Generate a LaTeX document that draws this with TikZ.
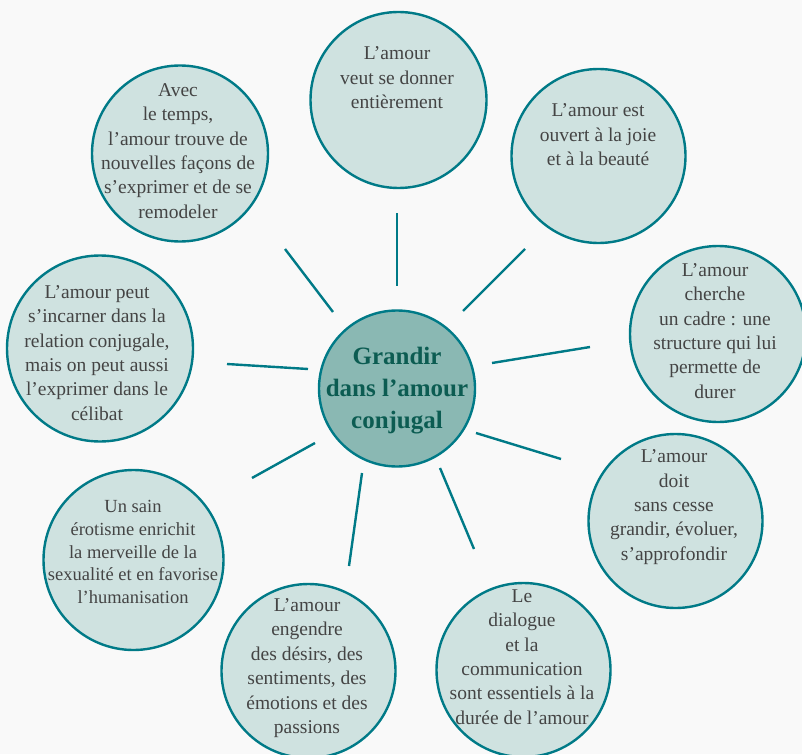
\documentclass[tikz,border=0pt]{standalone}
\usepackage{fontspec}
\setmainfont{Liberation Serif}
\definecolor{tealB}{RGB}{0,122,135}
\definecolor{bubfill}{RGB}{207,226,224}
\definecolor{midfill}{RGB}{138,184,179}
\definecolor{txtgray}{RGB}{68,68,68}
\definecolor{midtxt}{RGB}{12,92,82}
\definecolor{bg}{RGB}{249,249,249}
\begin{document}
\begin{tikzpicture}[x=1pt,y=-1pt,
  bub/.style={circle, draw=tealB, line width=2.4pt, fill=bubfill, inner sep=0pt},
  txt/.style={text=txtgray, align=center, font=\fontsize{19.5}{24.4}\selectfont, inner sep=0pt},
  spoke/.style={draw=tealB, line width=2.4pt}]
\useasboundingbox (0,0) rectangle (802,754);
\clip (0,0) rectangle (802,754);
\fill[bg] (0,0) rectangle (802,754);

% outer bubbles
\node[bub, minimum size=176pt] (b1) at (398.5,100) {};
\node[bub, minimum size=174pt] (b2) at (598.5,156) {};
\node[bub, minimum size=176pt] (b3) at (718,334) {};
\node[bub, minimum size=174pt] (b4) at (675.5,521) {};
\node[bub, minimum size=174pt] (b5) at (523.5,670) {};
\node[bub, minimum size=174pt] (b6) at (308.5,671) {};
\node[bub, minimum size=180pt] (b7) at (133.5,560) {};
\node[bub, minimum size=186pt] (b8) at (100,348.5) {};
\node[bub, minimum size=176pt] (b9) at (180,153.5) {};

% centre
\node[circle, draw=tealB, line width=2.4pt, fill=midfill, minimum size=156pt, inner sep=0pt] (c) at (397,388.5) {};
\node[text=midtxt, align=center, font=\fontsize{25}{32}\selectfont\bfseries, inner sep=0pt] (ct) at (397,391) {Grandir\\dans l’amour\\conjugal};

% texts
\node[txt] (t1) at (397,78) {L’amour\\veut se donner\\entièrement};
\node[txt] (t2) at (598,135) {L’amour est\\ouvert à la joie\\et à la beauté};
\node[txt] (t3) at (715,331) {L’amour\\cherche\\un cadre : une\\structure qui lui\\permette de\\durer};
\node[txt] (t4) at (674,507) {L’amour\\doit\\sans cesse\\grandir, évoluer,\\s’approfondir};
\node[txt] (t5) at (522,657) {Le\\dialogue\\et la\\communication\\sont essentiels à la\\durée de l’amour};
\node[txt] (t6) at (307,668) {L’amour\\engendre\\des désirs, des\\sentiments, des\\émotions et des\\passions};
\node[txt, font=\fontsize{18.5}{22.8}\selectfont] (t7) at (133,552) {Un sain\\érotisme enrichit\\la merveille de la\\sexualité et en favorise\\l’humanisation};
\node[txt] (t8) at (97,353) {L’amour peut\\s’incarner dans la\\relation conjugale,\\mais on peut aussi\\l’exprimer dans le\\célibat};
\node[txt] (t9) at (178,151) {Avec\\le temps,\\l’amour trouve de\\nouvelles façons de\\s’exprimer et de se\\remodeler};

% spokes
\coordinate (s1a) at (397,213); \coordinate (s1b) at (397,286);
\coordinate (s2a) at (525,249); \coordinate (s2b) at (463,311);
\coordinate (s3a) at (590,347); \coordinate (s3b) at (492,363);
\coordinate (s4a) at (476,433); \coordinate (s4b) at (561,459);
\coordinate (s5a) at (440,468); \coordinate (s5b) at (474,549);
\coordinate (s6a) at (362,473); \coordinate (s6b) at (349,566);
\coordinate (s7a) at (315,443); \coordinate (s7b) at (252,478);
\coordinate (s8a) at (308,369); \coordinate (s8b) at (227,364);
\coordinate (s9a) at (285,249); \coordinate (s9b) at (333,312);
\foreach \i in {1,...,9} {\draw[spoke] (s\i a) -- (s\i b);}
\end{tikzpicture}
\end{document}
